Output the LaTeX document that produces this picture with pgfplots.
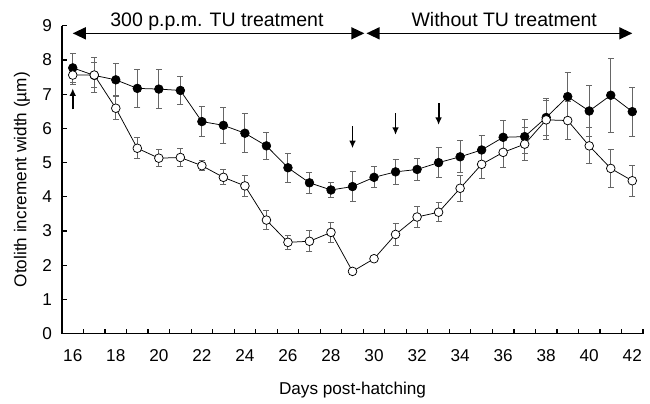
\documentclass[border=0pt]{standalone}
\usepackage{fontspec}
\setmainfont{Liberation Sans}
\usepackage{pgfplots}
\pgfplotsset{compat=1.18}
\usepackage{pgfplotstable}
\usetikzlibrary{arrows.meta}

% day, mean width, s.e.
\pgfplotstableread{
day  w     e
16   7.77  0.42
17   7.55  0.51
18   7.42  0.47
19   7.17  0.55
20   7.15  0.58
21   7.11  0.42
22   6.20  0.43
23   6.09  0.53
24   5.86  0.57
25   5.49  0.39
26   4.85  0.42
27   4.41  0.31
28   4.20  0.23
29   4.30  0.43
30   4.57  0.31
31   4.73  0.37
32   4.80  0.33
33   5.00  0.43
34   5.17  0.47
35   5.37  0.42
36   5.74  0.50
37   5.76  0.50
38   6.32  0.54
39   6.93  0.70
40   6.51  0.75
41   6.97  1.08
42   6.49  0.72
}\filledtab

\pgfplotstableread{
day  w     e
16   7.56  0.29
17   7.56  0.37
18   6.59  0.33
19   5.42  0.31
20   5.13  0.25
21   5.15  0.25
22   4.91  0.14
23   4.57  0.22
24   4.32  0.31
25   3.32  0.27
26   2.67  0.21
27   2.70  0.31
28   2.96  0.30
29   1.82  0
30   2.19  0
31   2.90  0.32
32   3.41  0.30
33   3.55  0.27
34   4.25  0.38
35   4.95  0.42
36   5.30  0.45
37   5.54  0.49
38   6.25  0.57
39   6.23  0.56
40   5.49  0.53
41   4.83  0.55
42   4.47  0.46
}\opentab

\begin{document}
\begin{tikzpicture}
\begin{axis}[
  scale only axis,
  width=348.6pt, height=184.7pt,
  xmin=15.5, xmax=42.5,
  ymin=0, ymax=9,
  axis x line=bottom, axis y line=left,
  axis line style={line width=0.8pt, -},
  tick align=inside,
  major tick length=2.8pt,
  tick style={line width=0.7pt, black},
  xtick={15.5,16.5,...,42.5},
  xticklabels={},
  extra x ticks={16,18,...,42},
  extra x tick labels={16,18,20,22,24,26,28,30,32,34,36,38,40,42},
  extra x tick style={major tick length=0pt},
  ytick={0,1,...,9},
  font=\fontsize{10.3}{12}\selectfont,
  /pgf/number format/assume math mode=true,
  xticklabel style={yshift=-6pt},
  yticklabel style={xshift=-2.5pt},
  xlabel={Days post-hatching},
  ylabel={Otolith increment width (µm)},
  xlabel style={at={(axis description cs:0.5,0)}, anchor=center, yshift=-34pt},
  ylabel style={at={(axis description cs:-0.069,0.5)}, anchor=center},
  error bars/y dir=both, error bars/y explicit,
  error bars/error bar style={line width=0.6pt, black!60},
  error bars/error mark options={rotate=90, mark size=1.8pt, line width=0.6pt, black!60},
  clip=false,
]
\path (axis description cs:-0.1067,-0.2255) rectangle (axis description cs:1.012,1.0838);

\addplot[black, line width=0.45pt, mark=*, mark size=2.6pt,
  mark options={fill=black, line width=0.4pt}]
  table[x=day, y=w, y error=e] {\filledtab};
\addplot[black, line width=0.45pt, mark=*, mark size=2.6pt,
  mark options={fill=white, line width=0.45pt}]
  table[x=day, y=w, y error=e] {\opentab};

% treatment periods
\draw[{Triangle[length=7.8pt,width=7.2pt]}-{Triangle[length=7.8pt,width=7.2pt]}, line width=0.8pt]
  (axis cs:16,8.78) -- (axis cs:29.55,8.78);
\draw[{Triangle[length=7.8pt,width=7.2pt]}-{Triangle[length=7.8pt,width=7.2pt]}, line width=0.8pt]
  (axis cs:29.65,8.78) -- (axis cs:42,8.78);
\node[anchor=base, font=\fontsize{11.7}{13}\selectfont] at (axis cs:22.7,8.98) {300 p.p.m. TU treatment};
\node[anchor=base, font=\fontsize{11.7}{13}\selectfont] at (axis cs:36.05,8.98) {Without TU treatment};

% small arrows
\draw[-{Latex[length=4.5pt,width=4pt]}, line width=1.1pt] (axis cs:16,6.56) -- (axis cs:16,7.17);
\draw[-{Latex[length=4.5pt,width=4pt]}, line width=1.1pt] (axis cs:29,6.07) -- (axis cs:29,5.42);
\draw[-{Latex[length=4.5pt,width=4pt]}, line width=1.1pt] (axis cs:31,6.44) -- (axis cs:31,5.81);
\draw[-{Latex[length=4.5pt,width=4pt]}, line width=1.1pt] (axis cs:33,6.73) -- (axis cs:33,6.10);
\end{axis}
\end{tikzpicture}
\end{document}
